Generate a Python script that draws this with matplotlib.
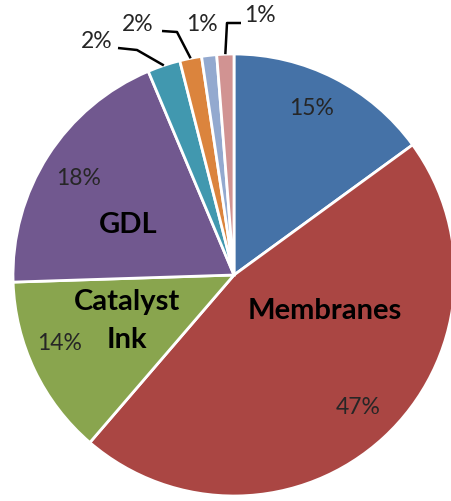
import matplotlib
matplotlib.use("Agg")
import matplotlib.pyplot as plt
import numpy as np

categories = ["Other A", "Membranes", "Catalyst Ink", "GDL", "Other B", "Other C", "Other D", "Other E"]
values = [15.0, 46.4, 13.2, 19.2, 2.4, 1.6, 1.1, 1.25]
pct_labels = ["15%", "47%", "14%", "18%", "2%", "2%", "1%", "1%"]
colors = ["#4572A7", "#AA4643", "#89A54E", "#71588F", "#4198AF", "#DB843D", "#93A9CF", "#D19392"]

W, H = 452, 501
fig = plt.figure(figsize=(W / 100, H / 100), dpi=100)
ax = fig.add_axes([0, 0, 1, 1])

cx, cy, R = 234, H - 275, 221
wedges, _ = ax.pie(values, colors=colors, startangle=90, counterclock=False,
                   center=(cx, cy), radius=R, frame=True,
                   wedgeprops=dict(edgecolor="white", linewidth=2))
ax.set_xlim(0, W)
ax.set_ylim(0, H)
ax.set_aspect("equal")
ax.axis("off")

pfont = dict(family=["Lato", "DejaVu Sans"], fontweight="normal", fontsize=16.5, color="#262626",
             ha="center", va="center")
bfont = dict(family=["Lato", "DejaVu Sans"], fontweight="bold", fontsize=21, color="black",
             ha="center", va="center")

def py(y):
    return H - y

# inside percentage labels
inside_pos = {0: (312, 108), 1: (358, 407), 2: (60, 343), 3: (79, 178)}
for i, (x, y) in inside_pos.items():
    ax.text(x, py(y), pct_labels[i], **pfont)

# category names
ax.text(325, py(311), categories[1], **bfont)
ax.text(127, py(302), "Catalyst", **bfont)
ax.text(127, py(340), "Ink", **bfont)
ax.text(128, py(225), categories[3], **bfont)

# outside labels for small slices
out_pos = {4: (97, 41), 5: (138, 24), 6: (202, 24), 7: (260, 15)}
for i, (x, y) in out_pos.items():
    ax.text(x, py(y), pct_labels[i], **pfont)

def edge_point(w):
    th = np.deg2rad((w.theta1 + w.theta2) / 2)
    return cx + R * np.cos(th), cy + R * np.sin(th)

# leader lines: (wedge index, elbow, text end)
leaders = {4: [(137, 50), (118, 48)], 5: [(177, 32), (162, 31)], 7: [(227, 23), (241, 23)]}
for i, pts in leaders.items():
    ex, ey = edge_point(wedges[i])
    xs = [ex] + [p[0] for p in pts]
    ys = [ey] + [py(p[1]) for p in pts]
    ax.plot(xs, ys, color="black", lw=1.8, solid_capstyle="butt")

fig.savefig("out.png", dpi=100, facecolor="white")
